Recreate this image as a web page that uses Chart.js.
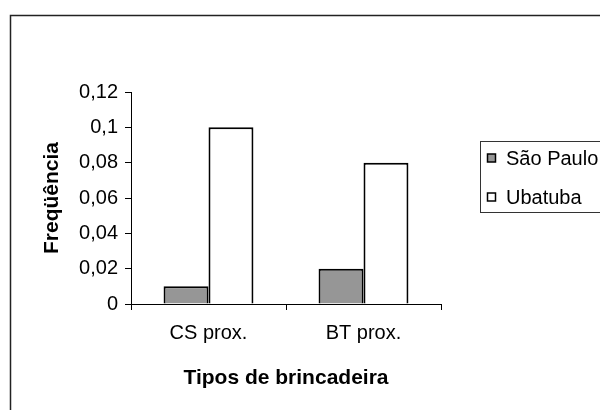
<!DOCTYPE html>
<html>
<head>
<meta charset="utf-8">
<script src="https://cdn.jsdelivr.net/npm/chart.js@4.4.0/dist/chart.umd.min.js"></script>
<style>
  html, body { margin: 0; padding: 0; background: #fff; }
  #wrap { width: 600px; height: 410px; position: relative; }
</style>
</head>
<body>
<div id="wrap"><canvas id="chart"></canvas></div>
<script>
// chart data
const categories = ['CS prox.', 'BT prox.']
const seriesNames = ['São Paulo', 'Ubatuba']
const saoPaulo = [0.01, 0.02]
const ubatuba = [0.1, 0.08]
const yTicks = [0, 0.02, 0.04, 0.06, 0.08, 0.1, 0.12]

const FONT = 'Liberation Sans, Arial, sans-serif'
const fillColors = ['#969696', '#ffffff']

// outer frame + boxed legend, drawn the old Excel way
const excelDecor = {
  id: 'excelDecor',
  afterDraw(chart) {
    const ctx = chart.ctx
    ctx.save()
    ctx.strokeStyle = '#222'
    ctx.lineWidth = 1.5
    ctx.beginPath()
    ctx.moveTo(10.5, 412)
    ctx.lineTo(10.5, 15.5)
    ctx.lineTo(602, 15.5)
    ctx.stroke()

    // legend
    ctx.lineWidth = 1
    ctx.strokeStyle = '#333'
    ctx.strokeRect(480.5, 141.5, 140, 71)
    ctx.font = '20px ' + FONT
    ctx.textBaseline = 'middle'
    chart.data.datasets.forEach((ds, i) => {
      const cy = 158 + i * 39
      ctx.fillStyle = ds.backgroundColor
      ctx.fillRect(487.5, cy - 4, 8, 8)
      ctx.strokeStyle = '#000'
      ctx.lineWidth = 1.5
      ctx.strokeRect(487.5, cy - 4, 8, 8)
      ctx.fillStyle = '#000'
      ctx.fillText(ds.label, 506, cy + 1)
    })
    ctx.restore()
  }
}

new Chart(document.getElementById('chart'), {
  type: 'bar',
  data: {
    labels: categories,
    datasets: [
      { label: seriesNames[0], data: saoPaulo, backgroundColor: fillColors[0] },
      { label: seriesNames[1], data: ubatuba, backgroundColor: fillColors[1] }
    ].map(ds => Object.assign(ds, {
      borderColor: '#000',
      borderWidth: 2,
      categoryPercentage: 0.58,
      barPercentage: 1
    }))
  },
  options: {
    responsive: true,
    maintainAspectRatio: false,
    animation: false,
    layout: { padding: { top: 92, right: 159, left: 0, bottom: 0 } },
    plugins: {
      legend: { display: false },
      tooltip: { enabled: false }
    },
    scales: {
      x: {
        grid: {
          display: true,
          offset: true,
          drawOnChartArea: false,
          drawTicks: true,
          tickLength: 6,
          color: '#000',
          tickColor: '#000'
        },
        border: { display: true, color: '#000', width: 1 },
        ticks: {
          color: '#000',
          font: { family: FONT, size: 20 },
          padding: 11
        },
        title: {
          display: true,
          text: 'Tipos de brincadeira',
          color: '#000',
          font: { family: FONT, size: 21, weight: 'bold' },
          padding: { top: 0, bottom: 19 }
        },
        afterFit: scale => { scale.height = 106 }
      },
      y: {
        min: 0,
        max: 0.12,
        afterBuildTicks: scale => { scale.ticks = yTicks.map(v => ({ value: v })) },
        grid: {
          display: true,
          drawOnChartArea: false,
          drawTicks: true,
          tickLength: 6,
          color: '#000',
          tickColor: '#000'
        },
        border: { display: true, color: '#000', width: 1 },
        ticks: {
          color: '#000',
          font: { family: FONT, size: 20 },
          padding: 7,
          callback: v => String(+Number(v).toFixed(2)).replace('.', ',')
        },
        title: {
          display: true,
          text: 'Freqüência',
          color: '#000',
          font: { family: FONT, size: 21, weight: 'bold' },
          padding: { top: 40, bottom: 0 }
        },
        afterFit: scale => { scale.width = 131 }
      }
    }
  },
  plugins: [excelDecor]
})
</script>
</body>
</html>
